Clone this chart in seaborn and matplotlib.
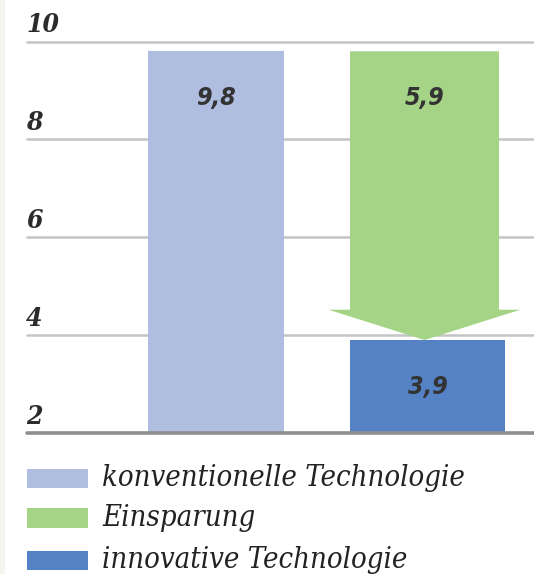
import matplotlib
matplotlib.use("Agg")
import matplotlib.pyplot as plt
from matplotlib.patches import Rectangle, Polygon
import seaborn as sns
import pandas as pd

# Data
categories = ["konventionelle Technologie", "innovative Technologie"]
values = [9.8, 3.9]
saving = 5.9
legend_labels = ["konventionelle Technologie", "Einsparung", "innovative Technologie"]
y_ticks = [2, 4, 6, 8, 10]

colors = {"konv": "#AFBEE0", "spar": "#A6D486", "inno": "#5582C4"}

sns.set_theme(style="white")
plt.rcParams["font.family"] = ["DejaVu Serif"]

fig = plt.figure(figsize=(5.34, 5.74), dpi=100)
fig.patch.set_facecolor("white")
W, H = 534, 574

def fx(px):
    return px / W

def fy(py):
    return 1 - py / H

# faint strip on the left edge
fig.add_artist(Rectangle((0, 0), fx(5), 1, transform=fig.transFigure,
                         facecolor="#F6F6EE", edgecolor="none"))

ax = fig.add_axes([fx(27), fy(433), fx(534) - fx(27), fy(41.5) - fy(433)])
df = pd.DataFrame({"cat": categories, "val": values})
sns.barplot(data=df, x="cat", y="val", hue="cat",
            palette=[colors["konv"], colors["inno"]], legend=False,
            saturation=1, ax=ax, width=0.7)

# per-bar widths
widths = [136 / 211.5, 155 / 211.5]
for patch, w in zip(ax.patches, widths):
    cx = patch.get_x() + patch.get_width() / 2
    patch.set_x(cx - w / 2)
    patch.set_width(w)
    patch.set_edgecolor("none")
    patch.set_zorder(3)

ax.set_ylim(2, 10)
ax.set_xlim(-189 / 211.5, 1 + 106.5 / 211.5)

# savings arrow from the conventional level down to the innovative level
top = values[0]
tip = values[0] - saving
head_len = 0.62
shaft_hw = 149 / 211.5 / 2
head_hw = 192 / 211.5 / 2
cx = 1 - 3 / 211.5
arrow = Polygon([
    (cx - shaft_hw, top), (cx + shaft_hw, top),
    (cx + shaft_hw, tip + head_len), (cx + head_hw, tip + head_len),
    (cx, tip), (cx - head_hw, tip + head_len),
    (cx - shaft_hw, tip + head_len)],
    closed=True, facecolor=colors["spar"], edgecolor="none", zorder=4)
ax.add_patch(arrow)

# gridlines
for t in y_ticks:
    if t == 2:
        ax.axhline(t, color="#8E8E8E", lw=2.6, zorder=5, clip_on=False)
    else:
        ax.axhline(t, color="#C4C4C4", lw=1.8, zorder=2, clip_on=False)

ax.set_yticks([])
ax.set_xticks([])
ax.set_xlabel("")
ax.set_ylabel("")
for s in ax.spines.values():
    s.set_visible(False)
ax.set_facecolor("none")

tick_font = dict(family="DejaVu Serif", stretch="condensed", weight="bold",
                 style="italic", color="#2B2B2B")
for t in y_ticks:
    ax.annotate(str(t), xy=(0, t), xycoords=("axes fraction", "data"),
                xytext=(-1, 9), textcoords="offset pixels",
                ha="left", va="baseline", fontsize=19, **tick_font)

# value labels
lab_font = dict(family="DejaVu Sans", stretch="condensed", weight="bold",
                style="italic", color="#333333", zorder=10)
def fmt(v):
    return f"{v:.1f}".replace(".", ",")

ax.text(0, 8.85, fmt(values[0]), ha="center", va="center", fontsize=18, **lab_font)
ax.text(cx, 8.85, fmt(saving), ha="center", va="center", fontsize=18, **lab_font)
ax.text(1, (2 + values[1]) / 2, fmt(values[1]), ha="center", va="center",
        fontsize=18, **lab_font)

# legend
leg_font = dict(family="DejaVu Serif", stretch="condensed", style="italic",
                color="#222222")
rows = [478, 518, 560]
for y, lab, col in zip(rows, legend_labels, [colors["konv"], colors["spar"], colors["inno"]]):
    fig.add_artist(Rectangle((fx(27), fy(y + 9.5)), fx(61), fy(y - 9.5) - fy(y + 9.5),
                             transform=fig.transFigure, facecolor=col, edgecolor="none"))
    fig.text(fx(102), fy(y), lab, ha="left", va="center", fontsize=21, **leg_font)

fig.savefig("out.png", dpi=100)
